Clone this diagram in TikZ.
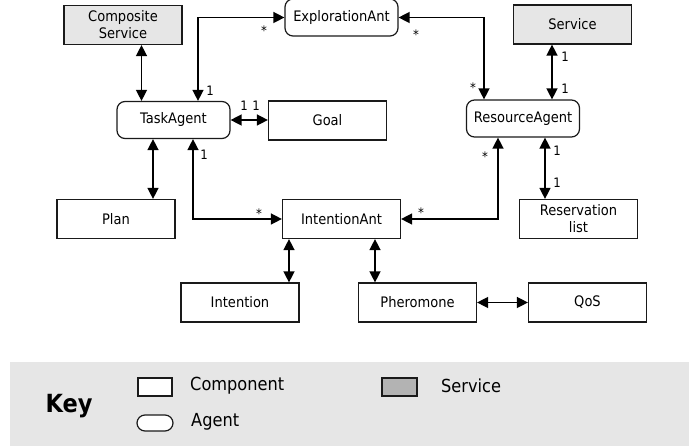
\documentclass[tikz,border=0pt]{standalone}
\usepackage{fontspec}
\setmainfont{DejaVu Sans Condensed}
\usetikzlibrary{arrows.meta,calc}
\definecolor{svcfill}{HTML}{E6E6E6}
\definecolor{keyfill}{HTML}{E6E6E6}
\definecolor{svckey}{HTML}{B3B3B3}
\definecolor{edge}{HTML}{1A1A1A}
\tikzset{
  comp/.style={draw=edge,line width=1.2pt,minimum width=118pt,minimum height=39pt,inner sep=1pt,align=center,font=\fontsize{14.5}{17}\selectfont,fill=white},
  agent/.style={comp,rounded corners=8pt,minimum width=113pt,minimum height=37pt},
  svc/.style={comp,fill=svcfill},
  dbl/.style={line width=1.4pt,draw=black,{Triangle[length=11pt,width=11pt]}-{Triangle[length=11pt,width=11pt]}},
  mult/.style={inner sep=0pt,font=\fontsize{13}{13}\selectfont},
  keytext/.style={inner sep=0pt,anchor=west,font=\fontsize{18}{20}\selectfont}
}
\begin{document}
\begin{tikzpicture}[x=1pt,y=-1pt]
\useasboundingbox (0,0) rectangle (689,446);
% key background
\fill[keyfill] (10,362) rectangle (689,446);
% nodes
\node[svc]   (cs)   at (123,25)    {Composite\\Service};
\node[agent] (expl) at (341.5,17.5){ExplorationAnt};
\node[svc]   (serv) at (572.5,24.5){Service};
\node[agent] (task) at (173.5,120) {TaskAgent};
\node[comp]  (goal) at (327.5,120.5){Goal};
\node[agent] (res)  at (523,118.5) {ResourceAgent};
\node[comp]  (plan) at (116,219)   {Plan};
\node[comp]  (iant) at (341.5,219) {IntentionAnt};
\node[comp]  (resv) at (578.5,219) {Reservation\\list};
\node[comp]  (intn) at (240,302.5) {Intention};
\node[comp]  (pher) at (417.5,302.5){Pheromone};
\node[comp]  (qos)  at (587.5,302.5){QoS};
% connectors
\draw[dbl] ([xshift=-32pt]task.north |- cs.south) -- ([xshift=-32pt]task.north);
\draw[dbl] ([xshift=24.5pt]task.north) |- (expl.west);
\draw[dbl] (expl.east) -| ([xshift=-39pt]res.north);
\draw[dbl] ([xshift=29pt]res.north |- serv.south) -- ([xshift=29pt]res.north);
\draw[dbl] (task.east) -- (task.east -| goal.west);
\draw[dbl] ([xshift=-20.5pt]task.south) -- ([xshift=-20.5pt]task.south |- plan.north);
\draw[dbl] ([xshift=19.5pt]task.south) |- (iant.west);
\draw[dbl] ([xshift=-25pt]res.south) |- (iant.east);
\draw[dbl] ([xshift=22pt]res.south) -- ([xshift=22pt]res.south |- resv.north);
\draw[dbl] ([xshift=-52.5pt]iant.south) -- ([xshift=-52.5pt]iant.south |- intn.north);
\draw[dbl] ([xshift=33.5pt]iant.south) -- ([xshift=33.5pt]iant.south |- pher.north);
\draw[dbl] (pher.east) -- (qos.west);
% multiplicities
\node[mult] (m1)  at (210,91)  {1};
\node[mult] (m2)  at (264,31)  {*};
\node[mult] (m3)  at (416,35)  {*};
\node[mult] (m4)  at (473,88)  {*};
\node[mult] (m5)  at (565,57)  {1};
\node[mult] (m6)  at (565,89)  {1};
\node[mult] (m7)  at (244,106) {1};
\node[mult] (m8)  at (256,106) {1};
\node[mult] (m9)  at (204,155) {1};
\node[mult] (m10) at (259,214) {*};
\node[mult] (m11) at (485,157) {*};
\node[mult] (m12) at (421,213) {*};
\node[mult] (m13) at (557,151) {1};
\node[mult] (m14) at (557,183) {1};
% key
\node[inner sep=0pt,font=\fontsize{25}{25}\selectfont\bfseries] (keylbl) at (69,406) {Key};
\draw[draw=edge,line width=1.2pt,fill=white] (138,378) rectangle (172,396);
\draw[draw=edge,line width=1.2pt,fill=white,rounded corners=8pt] (137,415) rectangle (173,431);
\draw[draw=edge,line width=1.2pt,fill=svckey] (382,378) rectangle (417,396);
\node[keytext] (kc) at (190,386) {Component};
\node[keytext] (ka) at (191,422) {Agent};
\node[keytext] (ks) at (441,386) {Service};
\end{tikzpicture}
\end{document}
